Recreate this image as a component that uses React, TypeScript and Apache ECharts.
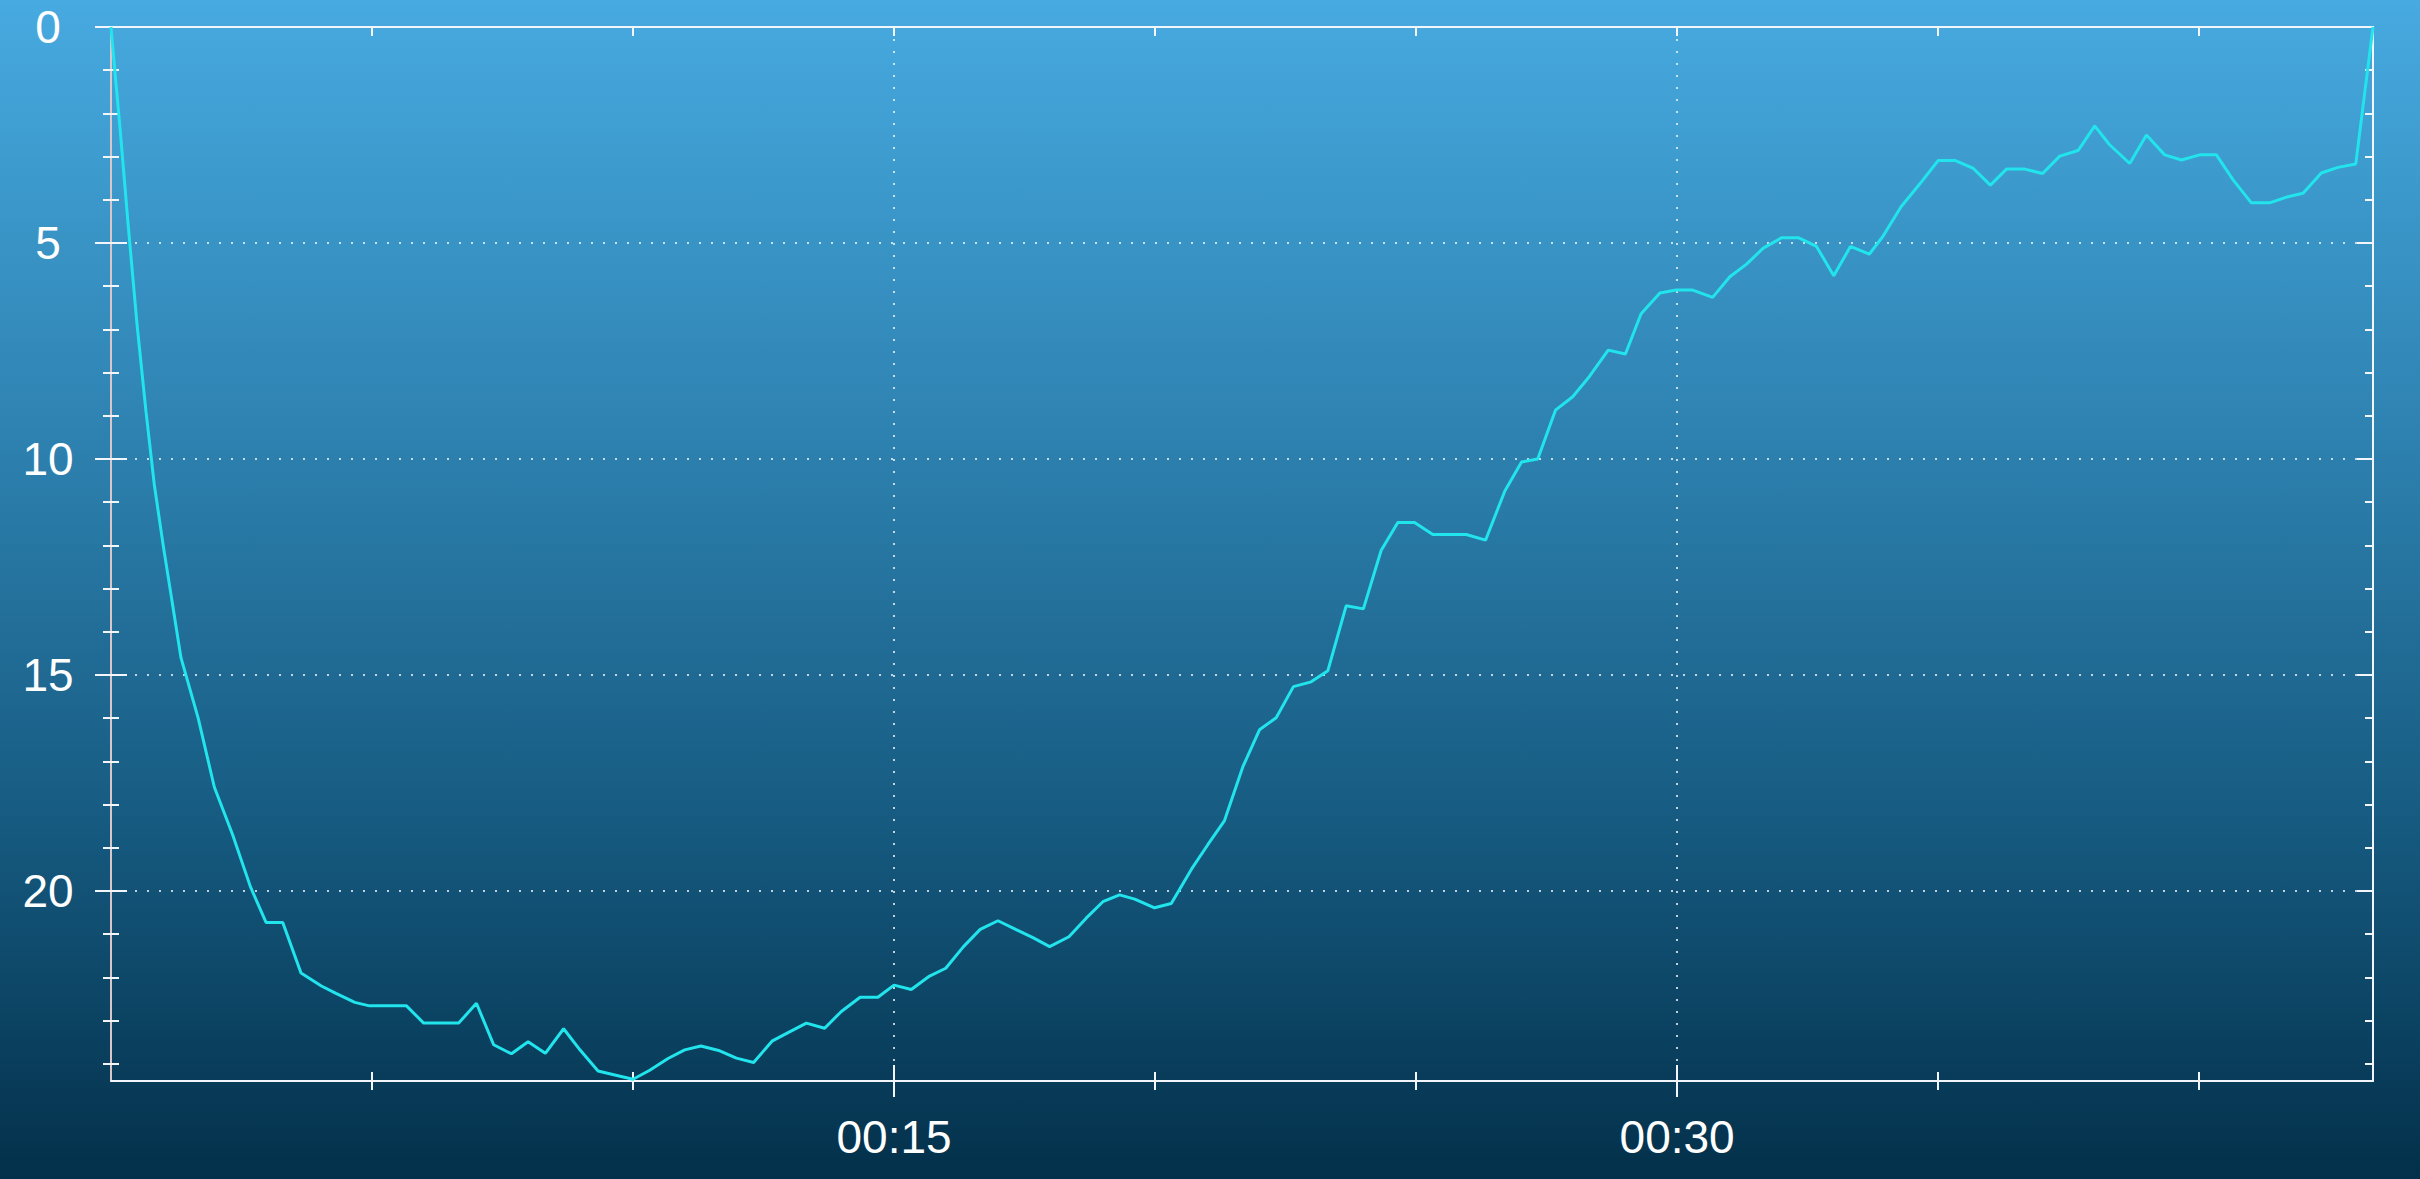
import React, { useEffect, useRef } from "react";
import * as echarts from "echarts";

// Dive profile: elapsed time (minutes) and depth (metres)
const TIME_MIN = [
  0, 0.08, 0.17, 0.33, 0.5, 0.67, 0.83, 1.0, 1.17, 1.34,
  1.67, 1.98, 2.33, 2.67, 2.97, 3.29, 3.64, 4.03, 4.31, 4.67,
  4.95, 5.66, 5.99, 6.66, 7.0, 7.33, 7.67, 7.99, 8.32, 8.67,
  8.99, 9.33, 9.65, 10.0, 10.32, 10.67, 10.99, 11.3, 11.66, 11.98,
  12.31, 12.67, 12.97, 13.32, 13.67, 13.99, 14.35, 14.69, 15.0, 15.33,
  15.68, 15.99, 16.33, 16.65, 16.99, 17.33, 17.66, 17.98, 18.35, 18.68,
  19.0, 19.32, 19.61, 19.99, 20.31, 20.7, 21.01, 21.33, 21.68, 22.0,
  22.32, 22.65, 22.99, 23.31, 23.66, 23.99, 24.33, 24.65, 24.97, 25.32,
  25.96, 26.33, 26.7, 27.02, 27.33, 27.67, 28.0, 28.32, 28.68, 29.01,
  29.31, 29.67, 29.98, 30.3, 30.68, 31.01, 31.33, 31.65, 32.0, 32.33,
  32.67, 33.0, 33.32, 33.68, 33.94, 34.29, 34.65, 35.0, 35.32, 35.67,
  36.0, 36.31, 36.66, 37.0, 37.33, 37.68, 38.0, 38.28, 38.67, 38.99,
  39.34, 39.66, 40.01, 40.33, 40.65, 41.0, 41.35, 41.7, 41.99, 42.34,
  42.66, 43.0, 43.33,
];

const DEPTH_M = [
  0, 1.1, 2.3, 4.6, 6.9, 8.9, 10.6, 12.0, 13.3, 14.6,
  16.0, 17.6, 18.7, 19.9, 20.73, 20.73, 21.9, 22.2, 22.37, 22.58,
  22.66, 22.66, 23.06, 23.06, 22.6, 23.56, 23.77, 23.49, 23.76, 23.19,
  23.69, 24.17, 24.26, 24.36, 24.15, 23.88, 23.68, 23.59, 23.7, 23.87,
  23.97, 23.47, 23.28, 23.06, 23.18, 22.79, 22.46, 22.46, 22.18, 22.28,
  21.97, 21.79, 21.29, 20.89, 20.69, 20.89, 21.08, 21.29, 21.06, 20.63,
  20.25, 20.09, 20.19, 20.39, 20.29, 19.49, 18.93, 18.37, 17.13, 16.27,
  15.99, 15.27, 15.16, 14.9, 13.4, 13.47, 12.12, 11.47, 11.47, 11.75,
  11.75, 11.88, 10.74, 10.07, 10.0, 8.87, 8.56, 8.09, 7.48, 7.57,
  6.64, 6.16, 6.09, 6.09, 6.26, 5.78, 5.49, 5.12, 4.88, 4.88,
  5.08, 5.76, 5.08, 5.26, 4.85, 4.16, 3.63, 3.09, 3.09, 3.27,
  3.66, 3.29, 3.29, 3.39, 2.99, 2.86, 2.29, 2.72, 3.16, 2.5,
  2.96, 3.08, 2.96, 2.96, 3.54, 4.07, 4.07, 3.93, 3.85, 3.38,
  3.25, 3.17, 0,
];

const X_MAX = 43.33;
const Y_MAX = 24.4;
const X_MAJOR_TICKS = [15, 30];
const X_MINOR_TICKS = [5, 10, 20, 25, 35, 40];
const Y_MAJOR_TICKS = [0, 5, 10, 15, 20];
const Y_MINOR_TICKS = [1, 2, 3, 4, 6, 7, 8, 9, 11, 12, 13, 14, 16, 17, 18, 19, 21, 22, 23, 24];

const FG = "#f2f6fa";
const LEFT_LINE = "#d9c6ca";
const GRID_DOT = "rgba(235,242,248,0.8)";
const FONT = "'Liberation Sans', Arial, Helvetica, sans-serif";

const pad = (n: number) => (n < 10 ? "0" + n : "" + n);
const fmtTime = (v: number) => {
  const h = Math.floor(v / 60);
  const m = Math.round(v % 60);
  return pad(h) + ":" + pad(m);
};

function tickAxisX(position: string, values: number[], inside: boolean, length: number) {
  return {
    type: "value",
    position,
    min: 0,
    max: X_MAX,
    interval: 15,
    axisLine: { show: false, onZero: false },
    axisLabel: { show: false },
    splitLine: { show: false },
    axisTick: {
      show: true,
      customValues: values,
      inside,
      length,
      lineStyle: { color: FG, width: 2 },
    },
  };
}

function tickAxisY(position: string, values: number[], inside: boolean, length: number) {
  return {
    type: "value",
    position,
    inverse: true,
    min: 0,
    max: Y_MAX,
    interval: 5,
    axisLine: { show: false, onZero: false },
    axisLabel: { show: false },
    splitLine: { show: false },
    axisTick: {
      show: true,
      customValues: values,
      inside,
      length,
      lineStyle: { color: FG, width: 2 },
    },
  };
}

export default function App() {
  const ref = useRef<HTMLDivElement>(null);

  useEffect(() => {
    if (!ref.current) return;
    const chart = echarts.init(ref.current, undefined, { renderer: "svg" });
    const data = TIME_MIN.map((t, i) => [t, DEPTH_M[i]]);

    chart.setOption({
      animation: false,
      backgroundColor: {
        type: "linear",
        x: 0,
        y: 0,
        x2: 0,
        y2: 1,
        colorStops: [
          { offset: 0, color: "#47aae0" },
          { offset: 0.35, color: "#2f84b3" },
          { offset: 0.7, color: "#165a80" },
          { offset: 1, color: "#03304a" },
        ],
      },
      grid: { left: 111, top: 27, right: 47, bottom: 98, containLabel: false },
      xAxis: [
        {
          type: "value",
          position: "bottom",
          min: 0,
          max: X_MAX,
          interval: 15,
          axisLine: { show: true, onZero: false, lineStyle: { color: FG, width: 2 } },
          axisTick: {
            show: true,
            customValues: X_MAJOR_TICKS,
            inside: false,
            length: 16,
            lineStyle: { color: FG, width: 2 },
          },
          axisLabel: {
            show: true,
            customValues: X_MAJOR_TICKS,
            formatter: (v: number) => fmtTime(v),
            color: "#ffffff",
            fontSize: 46,
            fontFamily: FONT,
            margin: 33,
          },
          splitLine: {
            show: true,
            lineStyle: { color: GRID_DOT, width: 2, type: [2, 10] },
          },
        },
        tickAxisX("bottom", X_MAJOR_TICKS, true, 16),
        tickAxisX("bottom", X_MINOR_TICKS, false, 9),
        tickAxisX("bottom", X_MINOR_TICKS, true, 9),
        {
          ...tickAxisX("top", [...X_MINOR_TICKS, ...X_MAJOR_TICKS], true, 9),
          axisLine: { show: true, onZero: false, lineStyle: { color: FG, width: 2 } },
        },
      ],
      yAxis: [
        {
          type: "value",
          position: "left",
          inverse: true,
          min: 0,
          max: Y_MAX,
          interval: 5,
          axisLine: { show: true, onZero: false, lineStyle: { color: LEFT_LINE, width: 2 } },
          axisTick: {
            show: true,
            customValues: Y_MAJOR_TICKS,
            inside: false,
            length: 16,
            lineStyle: { color: FG, width: 2 },
          },
          axisLabel: {
            show: true,
            customValues: Y_MAJOR_TICKS,
            color: "#ffffff",
            fontSize: 46,
            fontFamily: FONT,
            align: "center",
            margin: 63,
          },
          splitLine: {
            show: true,
            lineStyle: { color: GRID_DOT, width: 2, type: [2, 10] },
          },
        },
        tickAxisY("left", Y_MAJOR_TICKS, true, 16),
        tickAxisY("left", Y_MINOR_TICKS, false, 8),
        tickAxisY("left", Y_MINOR_TICKS, true, 8),
        {
          ...tickAxisY("right", Y_MAJOR_TICKS, true, 16),
          axisLine: { show: true, onZero: false, lineStyle: { color: FG, width: 2 } },
        },
        tickAxisY("right", Y_MINOR_TICKS, true, 8),
      ],
      series: [
        {
          type: "line",
          xAxisIndex: 0,
          yAxisIndex: 0,
          data,
          showSymbol: false,
          symbol: "none",
          clip: false,
          z: 5,
          lineStyle: { color: "#22e4ec", width: 3 },
        },
      ],
    });

    return () => chart.dispose();
  }, []);

  return (
    <div
      ref={ref}
      style={{ position: "fixed", left: 0, top: 0, width: 2420, height: 1179 }}
    />
  );
}
